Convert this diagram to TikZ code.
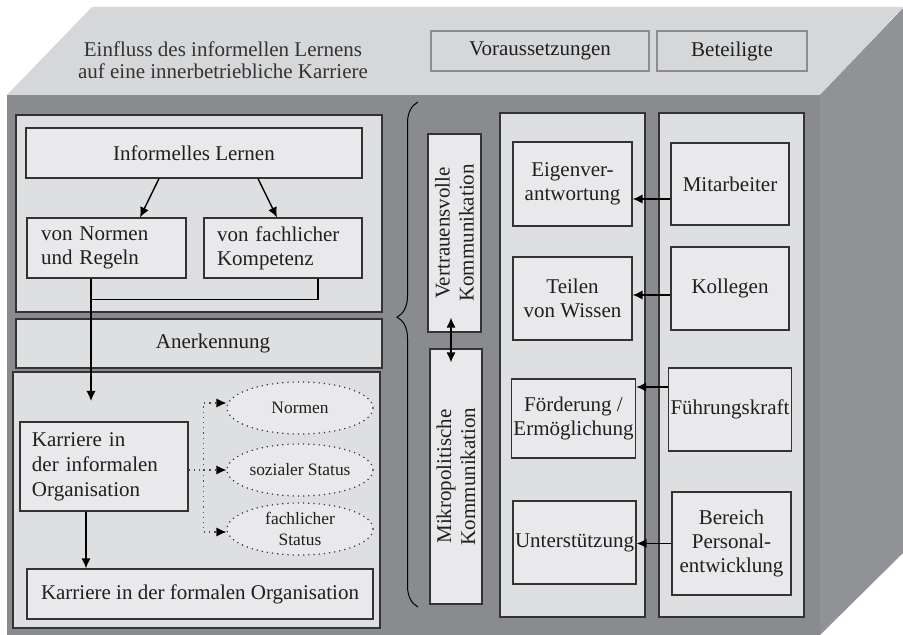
\documentclass[tikz,border=0pt]{standalone}
\usepackage{fontspec}
\setmainfont{Liberation Serif}
\usetikzlibrary{arrows.meta,decorations.pathreplacing,shapes.geometric}
\definecolor{topface}{HTML}{D6D7D9}
\definecolor{frontface}{HTML}{8A8B8F}
\definecolor{sideface}{HTML}{909296}
\definecolor{panelgray}{HTML}{DEDFE1}
\definecolor{boxgray}{HTML}{E9E9EB}
\definecolor{edgegray}{HTML}{333333}
\definecolor{headedge}{HTML}{8C8C8E}
\begin{document}
\begin{tikzpicture}[x=0.5pt,y=-0.5pt,line width=0.7pt,>={Latex[length=5pt,width=4.6pt]},
  sz/.style 2 args={minimum width=#1*0.5pt,minimum height=#2*0.5pt},
  txt/.style={font=\fontsize{10.5}{12}\selectfont,text=black!88},
  panel/.style={draw=edgegray,line width=0.6pt,fill=panelgray,inner sep=0pt},
  box/.style={txt,draw=edgegray,line width=0.6pt,fill=boxgray,inner sep=1pt,align=center},
  lbox/.style={box,align=left},
  headbox/.style={txt,draw=headedge,line width=0.6pt,fill=topface,inner sep=1pt},
  ell/.style={ellipse,draw=edgegray,dotted,line width=0.6pt,fill=boxgray,inner sep=0pt,
    align=center,font=\fontsize{8.7}{10.5}\selectfont,text=black!88},
  dotarrow/.style={-{Latex[length=5pt,width=4.6pt,black]},dotted,line width=0.6pt,draw=black!70}]
  \useasboundingbox (0,0) rectangle (903,635);
  % cube faces
  \fill[topface] (7,95) -- (92,7) -- (903,7) -- (820,95) -- cycle;
  \fill[frontface] (7,95) rectangle (820,635);
  \fill[sideface] (820,95) -- (903,8) -- (903,553) -- (820,635) -- cycle;

  % top face
  \node[font=\fontsize{10.5}{11}\selectfont,text=black!80,align=center] (titel) at (223,60)
    {Einfluss des informellen Lernens\\auf eine innerbetriebliche Karriere};
  \node[headbox,sz={218}{40}] (vor) at (540,51) {Voraussetzungen};
  \node[headbox,sz={150}{40}] (bet) at (732,51) {Beteiligte};

  % left column
  \node[panel,sz={366}{197}] (lern) at (199,213.5) {};
  \node[box,sz={336}{50}] (il) at (194,153) {Informelles Lernen};
  \node[lbox,sz={159}{60},text width=65.5pt,inner xsep=7pt] (nr) at (106.5,248) {von Normen\\und Regeln};
  \node[lbox,sz={158}{60},text width=66pt,inner xsep=6.5pt] (kf) at (283,248) {von fachlicher\\Kompetenz};
  \node[panel,sz={366}{49},txt,label={[txt,xshift=7pt]center:Anerkennung}] (ank) at (199,343.5) {};
  \node[panel,sz={367}{256}] (karr) at (196.5,500) {};
  \node[lbox,sz={168}{89},text width=72pt,inner xsep=6pt,font=\fontsize{10.5}{12.5}\selectfont] (ki) at (104,466.5)
    {Karriere in\\der informalen\\Organisation};
  \node[box,sz={346}{50}] (kfo) at (200,594) {Karriere in der formalen Organisation};
  \node[ell,sz={146}{52}] (no) at (300,408) {Normen};
  \node[ell,sz={146}{52}] (so) at (300,470) {sozialer Status};
  \node[ell,sz={146}{52}] (fs) at (300,529) {fachlicher\\Status};
  \coordinate (kin) at (91,401);

  \draw[->] ([xshift=-35*0.5pt]il.south) -- ([xshift=33.5*0.5pt]nr.north);
  \draw[->] ([xshift=64*0.5pt]il.south) -- ([xshift=-6*0.5pt]kf.north);
  \draw ([xshift=-15.5*0.5pt]nr.south) -- ++(0,21) -| ([xshift=35*0.5pt]kf.south);
  \draw[->] ([xshift=-15.5*0.5pt]nr.south) -- (kin);
  \draw[->] ([xshift=-18*0.5pt]ki.south) -- ([xshift=-18*0.5pt]ki.south |- kfo.north);
  \draw[dotarrow] (ki.east |- so.west) -- (so.west);
  \draw[dotarrow] ([xshift=15*0.5pt]ki.east |- so.west) |- ([yshift=2.5pt]no.west);
  \draw[dotarrow] ([xshift=15*0.5pt]ki.east |- so.west) |- ([yshift=-1.5pt]fs.west);

  % brace and communication
  \draw[line width=0.5pt,decorate,decoration={brace,amplitude=10.5pt,aspect=0.574}] (418,607) -- (418,102);
  \node[box,rotate=90,sz={198}{53}] (vk) at (454.5,233) {Vertrauensvolle\\Kommunikation};
  \node[box,rotate=90,sz={255}{52}] (mk) at (456,476.5) {Mikropolitische\\Kommunikation};
  \draw[<->,shorten <=-7.5pt,shorten >=-7pt] ([xshift=-3.5*0.5pt]vk.west) -- ([xshift=-3.5*0.5pt]vk.west |- mk.east);

  % Voraussetzungen and Beteiligte
  \node[panel,sz={145}{504}] (vs) at (572.5,365) {};
  \node[panel,sz={145}{504}] (bt) at (731.5,365) {};
  \node[box,sz={119}{84}] (ev) at (572.5,184) {Eigenver-\\antwortung};
  \node[box,sz={119}{83}] (tw) at (572.5,298.5) {Teilen\\von Wissen};
  \node[box,sz={119}{79}] (fe) at (573.5,418.5) {Förderung /\\Ermöglichung};
  \node[box,sz={119}{83}] (us) at (574.5,542.5) {Unterstützung};
  \node[box,sz={118}{82}] (ma) at (730,184) {Mitarbeiter};
  \node[box,sz={118}{83}] (ko) at (730,288.5) {Kollegen};
  \node[box,sz={118}{83}] (fk) at (730,409.5) {Führungskraft};
  \node[box,sz={119}{103}] (bp) at (731.5,543.5) {Bereich\\Personal-\\entwicklung};

  \draw[->] ([yshift=-7.5pt]ma.west) -- ([yshift=-7.5pt]ma.west -| ev.east);
  \draw[->] ([yshift=-3.25pt]ko.west) -- ([yshift=-3.25pt]ko.west -| tw.east);
  \draw[->] ([yshift=11.25pt]fk.west) -- ([yshift=11.25pt]fk.west -| fe.east);
  \draw[->] (bp.west) -- (bp.west -| us.east);
\end{tikzpicture}
\end{document}
